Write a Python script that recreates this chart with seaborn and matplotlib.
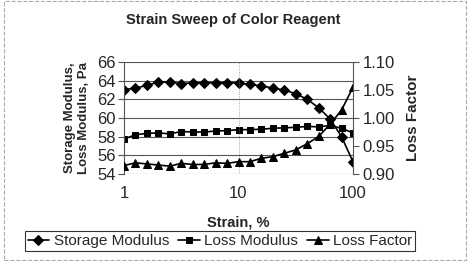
import numpy as np
import pandas as pd
import matplotlib.pyplot as plt
import seaborn as sns
from matplotlib.patches import Rectangle
from matplotlib.ticker import FixedLocator, NullLocator

sns.set_style('white')
plt.rcParams['font.family'] = ['Liberation Sans', 'DejaVu Sans']

strain = [1.0, 1.26, 1.58, 2.0, 2.51, 3.16, 3.98, 5.01, 6.31, 7.94, 10.0,
          12.6, 15.8, 20.0, 25.1, 31.6, 39.8, 50.1, 63.1, 79.4, 100.0]
storage = [63.05, 63.2, 63.5, 63.85, 63.85, 63.67, 63.78, 63.78, 63.78, 63.8, 63.75,
           63.6, 63.45, 63.2, 63.0, 62.6, 62.0, 61.1, 59.9, 58.0, 55.3]
loss_mod = [57.75, 58.2, 58.35, 58.4, 58.3, 58.55, 58.5, 58.5, 58.6, 58.65, 58.75,
            58.75, 58.8, 58.9, 58.95, 59.0, 59.1, 59.05, 59.2, 58.9, 58.4]
loss_factor = [0.915, 0.92, 0.918, 0.916, 0.914, 0.919, 0.917, 0.917, 0.92, 0.919, 0.922,
               0.922, 0.928, 0.931, 0.937, 0.943, 0.954, 0.967, 0.989, 1.014, 1.055]

df = pd.DataFrame({'strain': strain, 'storage': storage,
                   'loss_mod': loss_mod, 'loss_factor': loss_factor})

fig = plt.figure(figsize=(4.68, 2.61), dpi=100)
ax = fig.add_axes([124/468, 1-174/261, (353-124)/468, (174-62)/261])
ax2 = ax.twinx()

sns.lineplot(data=df, x='strain', y='storage', ax=ax, color='black', lw=1.2,
             marker='D', markersize=5, markeredgecolor='black', label='Storage Modulus', legend=False)
sns.lineplot(data=df, x='strain', y='loss_mod', ax=ax, color='black', lw=1.2,
             marker='s', markersize=5, markeredgecolor='black', label='Loss Modulus', legend=False)
sns.lineplot(data=df, x='strain', y='loss_factor', ax=ax2, color='black', lw=1.2,
             marker='^', markersize=5.5, markeredgecolor='black', label='Loss Factor', legend=False)

ax.set_xscale('log')
ax.set_xlim(1, 100)
ax.set_ylim(54, 66)
ax2.set_ylim(0.90, 1.10)
ax.set_yticks(range(54, 67, 2))
ax2.set_yticks([0.90, 0.95, 1.00, 1.05, 1.10])
ax2.set_yticklabels(['0.90', '0.95', '1.00', '1.05', '1.10'])
ax.xaxis.set_major_locator(FixedLocator([1, 10, 100]))
ax.xaxis.set_minor_locator(NullLocator())
ax.set_xticklabels(['1', '10', '100'])

ax.grid(axis='y', color='#555555', lw=0.8)
ax.axvline(10, color='#888888', lw=0.6, ls=':')
for a in (ax, ax2):
    for s in a.spines.values():
        s.set_visible(False)
ax.spines['left'].set_visible(True)
ax.spines['left'].set_color('#555555')
ax2.spines['right'].set_visible(True)
ax2.spines['right'].set_color('#555555')

ax.tick_params(axis='y', direction='out', length=4, width=0.8, color='#555555', labelsize=12, pad=2)
ax2.tick_params(axis='y', direction='out', length=4, width=0.8, color='#555555', labelsize=12, pad=3)
ax.tick_params(axis='x', length=0, labelsize=12, pad=9)

ax.set_xlabel('Strain, %', fontsize=10.5, fontweight='bold', labelpad=10)
ax.set_ylabel('Storage Modulus,\nLoss Modulus, Pa', fontsize=9.5, fontweight='bold', labelpad=5)
ax2.set_ylabel('Loss Factor', fontsize=11, fontweight='bold', labelpad=8)

fig.text(233/468, 1-20/261, 'Strain Sweep of Color Reagent', ha='center', va='center',
         fontsize=10.5, fontweight='bold')

h1, l1 = ax.get_legend_handles_labels()
h2, l2 = ax2.get_legend_handles_labels()
leg = fig.legend(h1 + h2, l1 + l2, loc='center', bbox_to_anchor=(220/468, 1-241/261), ncol=3,
                 frameon=True, fancybox=False, edgecolor='black', fontsize=11,
                 handlelength=1.4, handletextpad=0.3, columnspacing=0.6, borderpad=0.2)
leg.get_frame().set_linewidth(0.8)

fig.patches.append(Rectangle((4/468, 0.005), 462/468, 0.99, transform=fig.transFigure,
                             fill=False, edgecolor='#aaaaaa', lw=0.8, ls='--'))

fig.savefig('out.png', dpi=100)
